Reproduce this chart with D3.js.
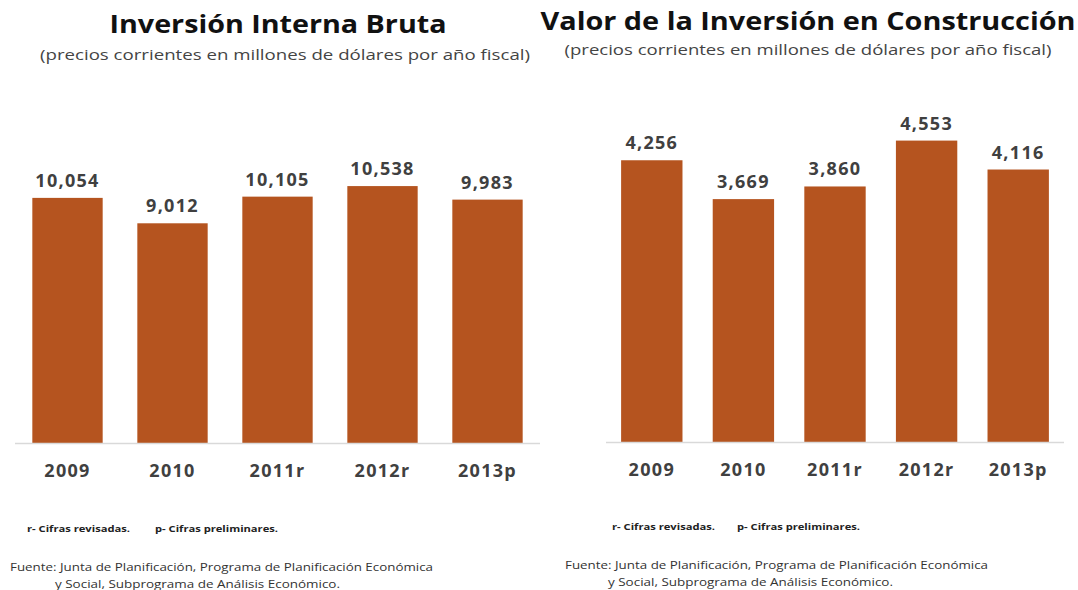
<!DOCTYPE html>
<html>
  <head>
    <meta charset="utf-8">
    <script src="https://cdn.jsdelivr.net/npm/d3@7"></script>
    <style>
      body { margin: 0; background: white; }
      svg { display: block; }
    </style>
  </head>
  <body>
    <script>
      const categories = ['2009', '2010', '2011r', '2012r', '2013p']
      const inversionBruta = [10054, 9012, 10105, 10538, 9983]
      const construccion = [4256, 3669, 3860, 4553, 4116]

      const titles = ['Inversión Interna Bruta', 'Valor de la Inversión en Construcción']
      const subtitle = '(precios corrientes en millones de dólares por año fiscal)'
      const notes = ['r- Cifras revisadas.', 'p- Cifras preliminares.']
      const source = ['Fuente: Junta de Planificación, Programa de Planificación Económica',
                      'y Social, Subprograma de Análisis Económico.']

      const W = 1078, H = 590
      const barColor = '#b5541f'
      const font = 'Open Sans, sans-serif'

      const svg = d3.select('body').append('svg')
        .attr('width', W).attr('height', H)

      function panel({values, title, titleX, titleY, titleW, subX, subY, subW,
                      x0, x1, base, pxPerUnit, notesX, notesY, srcX, srcY}) {
        const g = svg.append('g')

        g.append('text')
          .attr('x', titleX).attr('y', titleY)
          .attr('text-anchor', 'middle')
          .attr('font-family', font).attr('font-weight', 'bold')
          .attr('font-size', 25).attr('fill', '#111')
          .attr('textLength', titleW).attr('lengthAdjust', 'spacingAndGlyphs')
          .text(title)

        g.append('text')
          .attr('x', subX).attr('y', subY)
          .attr('text-anchor', 'middle')
          .attr('font-family', font)
          .attr('font-size', 14).attr('fill', '#444')
          .attr('textLength', subW).attr('lengthAdjust', 'spacingAndGlyphs')
          .text(subtitle)

        const x = d3.scaleBand().domain(categories).range([x0, x1])
          .paddingInner(0.33).paddingOuter(0.165)
        const maxV = 12000
        const y = d3.scaleLinear().domain([0, maxV]).range([base, base - maxV * pxPerUnit])

        g.selectAll('rect.bar').data(values).join('rect')
          .attr('class', 'bar')
          .attr('x', (d, i) => x(categories[i]))
          .attr('width', x.bandwidth())
          .attr('y', d => y(d))
          .attr('height', d => y(0) - y(d))
          .attr('fill', barColor)

        g.append('line')
          .attr('x1', x0).attr('x2', x1)
          .attr('y1', y(0) + 0.5).attr('y2', y(0) + 0.5)
          .attr('stroke', '#d9d9d9').attr('stroke-width', 1.5)

        g.selectAll('text.val').data(values).join('text')
          .attr('class', 'val')
          .attr('x', (d, i) => x(categories[i]) + x.bandwidth() / 2)
          .attr('y', d => y(d) - 11)
          .attr('text-anchor', 'middle')
          .attr('font-family', font).attr('font-weight', 'bold')
          .attr('font-size', 18).attr('fill', '#404040')
          .attr('letter-spacing', 1.3)
          .text(d => d3.format(',')(d))

        g.selectAll('text.cat').data(categories).join('text')
          .attr('class', 'cat')
          .attr('x', d => x(d) + x.bandwidth() / 2)
          .attr('y', base + 34)
          .attr('text-anchor', 'middle')
          .attr('font-family', font).attr('font-weight', 'bold')
          .attr('font-size', 18).attr('fill', '#404040')
          .attr('letter-spacing', 1.3)
          .text(d => d)

        g.append('text')
          .attr('x', notesX[0]).attr('y', notesY)
          .attr('font-family', font).attr('font-weight', 'bold')
          .attr('font-size', 9.5).attr('fill', '#222')
          .attr('textLength', 103).attr('lengthAdjust', 'spacingAndGlyphs')
          .text(notes[0])
        g.append('text')
          .attr('x', notesX[1]).attr('y', notesY)
          .attr('font-family', font).attr('font-weight', 'bold')
          .attr('font-size', 9.5).attr('fill', '#222')
          .attr('textLength', 123).attr('lengthAdjust', 'spacingAndGlyphs')
          .text(notes[1])

        g.append('text')
          .attr('x', srcX[0]).attr('y', srcY)
          .attr('font-family', font)
          .attr('font-size', 11).attr('fill', '#333')
          .attr('textLength', 423).attr('lengthAdjust', 'spacingAndGlyphs')
          .text(source[0])
        g.append('text')
          .attr('x', srcX[1]).attr('y', srcY + 17)
          .attr('font-family', font)
          .attr('font-size', 11).attr('fill', '#333')
          .attr('textLength', 285).attr('lengthAdjust', 'spacingAndGlyphs')
          .text(source[1])
      }

      panel({
        values: inversionBruta, title: titles[0],
        titleX: 278, titleY: 33, titleW: 337,
        subX: 285, subY: 60, subW: 490,
        x0: 15, x1: 540, base: 443, pxPerUnit: 0.02438,
        notesX: [27, 155], notesY: 532,
        srcX: [10, 55], srcY: 571
      })

      panel({
        values: construccion, title: titles[1],
        titleX: 808, titleY: 30, titleW: 535,
        subX: 808, subY: 55, subW: 487,
        x0: 606, x1: 1064, base: 442, pxPerUnit: 0.0662,
        notesX: [612, 737], notesY: 530,
        srcX: [565, 608], srcY: 569
      })
    </script>
  </body>
</html>
